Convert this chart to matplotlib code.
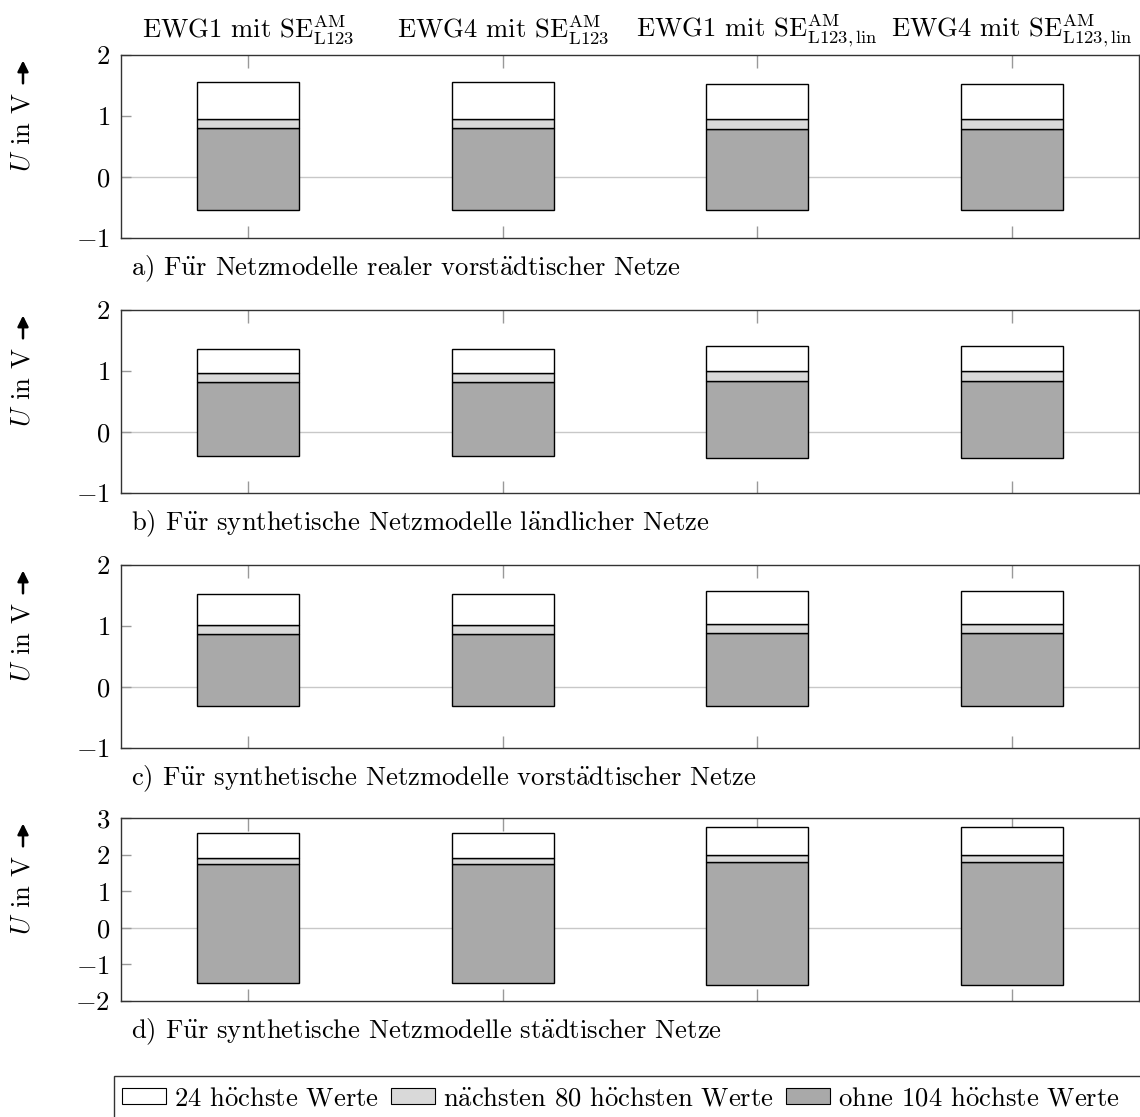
import matplotlib
matplotlib.use("Agg")
import matplotlib.pyplot as plt
from matplotlib.patches import Patch, Rectangle
import numpy as np

plt.rcParams['font.family'] = ['cmr10', 'DejaVu Serif']
plt.rcParams['mathtext.fontset'] = 'cm'
plt.rcParams['axes.formatter.use_mathtext'] = True
plt.rcParams['axes.unicode_minus'] = True

columns = [r"EWG1 mit SE$^{\mathrm{AM}}_{\mathrm{L123}}$",
           r"EWG4 mit SE$^{\mathrm{AM}}_{\mathrm{L123}}$",
           r"EWG1 mit SE$^{\mathrm{AM}}_{\mathrm{L123,lin}}$",
           r"EWG4 mit SE$^{\mathrm{AM}}_{\mathrm{L123,lin}}$"]
captions = ["a) Für Netzmodelle realer vorstädtischer Netze",
            "b) Für synthetische Netzmodelle ländlicher Netze",
            "c) Für synthetische Netzmodelle vorstädtischer Netze",
            "d) Für synthetische Netzmodelle städtischer Netze"]
series_names = ["24 höchste Werte", "nächsten 80 höchsten Werte", "ohne 104 höchste Werte"]

# per panel: minimum, top of dark part, top of light part, maximum
v_min = [[-0.54, -0.54, -0.54, -0.54],
         [-0.40, -0.40, -0.42, -0.42],
         [-0.31, -0.31, -0.31, -0.31],
         [-1.51, -1.51, -1.56, -1.56]]
v_dark = [[0.80, 0.80, 0.79, 0.79],
          [0.82, 0.82, 0.84, 0.84],
          [0.87, 0.87, 0.88, 0.88],
          [1.73, 1.73, 1.80, 1.80]]
v_light = [[0.957, 0.957, 0.957, 0.957],
           [0.967, 0.967, 1.00, 1.00],
           [1.01, 1.01, 1.03, 1.03],
           [1.91, 1.91, 2.00, 2.00]]
v_max = [[1.55, 1.55, 1.53, 1.53],
         [1.356, 1.356, 1.41, 1.41],
         [1.53, 1.53, 1.57, 1.57],
         [2.60, 2.60, 2.75, 2.75]]
ylims = [(-1, 2), (-1, 2), (-1, 2), (-2, 3)]
yticks = [[-1, 0, 1, 2], [-1, 0, 1, 2], [-1, 0, 1, 2], [-2, -1, 0, 1, 2, 3]]

colors = ['white', '#d9d9d9', '#a9a9a9']


def tx(s):
    for ch in 'aou':
        s = s.replace({'a': 'ä', 'o': 'ö', 'u': 'ü'}[ch], r'$\ddot{\mathrm{%s}}$' % ch)
    return s


W, H = 1140, 1117
fig = plt.figure(figsize=(W/100, H/100), dpi=100)
tops = [55, 310, 565, 818]
ah = 183
L, R = 121, 1139
x = np.arange(1, 5)
fs = 19.2
for i in range(4):
    ax = fig.add_axes([L/W, 1 - (tops[i] + ah)/H, (R-L)/W, ah/H])
    vmin = np.array(v_min[i]); vd = np.array(v_dark[i])
    vl = np.array(v_light[i]); vm = np.array(v_max[i])
    ax.axhline(0, color='#c8c8c8', lw=1.0, zorder=0)
    ax.bar(x, vd - vmin, bottom=vmin, width=0.4, color=colors[2], edgecolor='black', lw=1.0, zorder=2)
    ax.bar(x, vl - vd, bottom=vd, width=0.4, color=colors[1], edgecolor='black', lw=1.0, zorder=2)
    ax.bar(x, vm - vl, bottom=vl, width=0.4, color=colors[0], edgecolor='black', lw=1.0, zorder=2)
    ax.set_xlim(0.5, 4.5)
    ax.set_ylim(*ylims[i])
    ax.set_xticks(x)
    ax.set_xticklabels([])
    ax.set_yticks(yticks[i])
    ax.tick_params(axis='x', direction='in', top=True, bottom=True, length=9, width=1, color='#999999')
    ax.tick_params(axis='y', direction='in', left=True, right=False, length=7.5, width=1, color='#999999',
                   labelsize=fs, pad=8)
    for s in ax.spines.values():
        s.set_color('#333333'); s.set_linewidth(1.0)
    ax.text(0.01, -37/ah, tx(captions[i]), transform=ax.transAxes, ha='left', va='baseline', fontsize=fs)
    # y label
    xl = (23 - L) / (R - L)
    ax.text(xl, 0.58, r"$U$ in V", transform=ax.transAxes, rotation=90,
            ha='center', va='center', fontsize=fs)
    ax.annotate('', xy=(xl, 0.985), xytext=(xl, 0.83), xycoords='axes fraction',
                arrowprops=dict(arrowstyle='-|>', color='black', lw=1.8, mutation_scale=16),
                annotation_clip=False)
    if i == 0:
        for j in range(4):
            ax.annotate(columns[j], xy=(x[j], 1), xycoords=('data', 'axes fraction'),
                        xytext=(0, 13), textcoords='offset points', ha='center', va='baseline',
                        fontsize=fs)

# legend frame (extends beyond the figure edge as in the reference)
fig.add_artist(Rectangle((114/W, 1 - 1125/H), 1100/W, 49/H, transform=fig.transFigure,
                         facecolor='none', edgecolor='#333333', lw=1.0))
handles = [Patch(facecolor=c, edgecolor='black', lw=0.8) for c in colors]
fig.legend(handles, [tx(s) for s in series_names], loc='center left', ncol=3,
           bbox_to_anchor=(122/W, 1 - 1099/H), fontsize=fs,
           frameon=False, handlelength=1.65, handleheight=0.55, handletextpad=0.3,
           borderaxespad=0, borderpad=0.0, columnspacing=0.45)
fig.savefig('out.png', dpi=100)
